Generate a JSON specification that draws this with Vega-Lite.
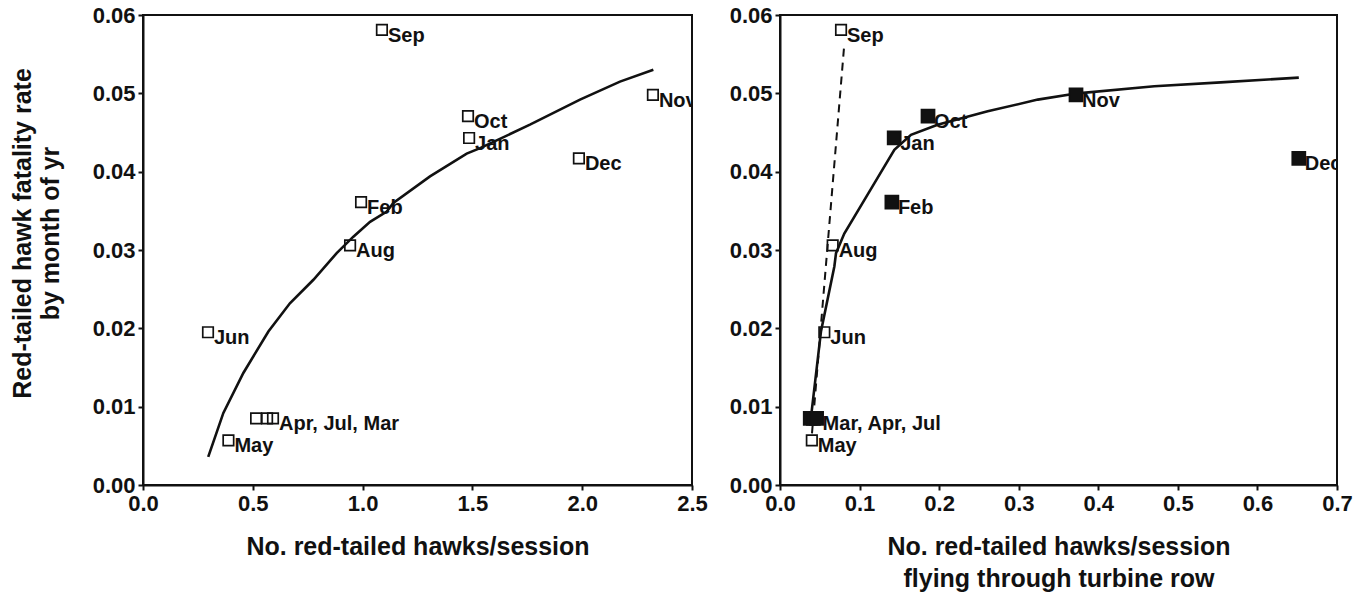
{
  "$schema": "https://vega.github.io/schema/vega-lite/v6.json",
  "padding": {"left": 8, "top": 3, "right": 0, "bottom": 0},
  "background": "white",
  "datasets": {
    "months": [
      {"month": "Jan", "h": 1.485, "t": 0.1435, "rate": 0.0443, "type": "filled", "lab1": "Jan", "lab2": "Jan"},
      {"month": "Feb", "h": 0.993, "t": 0.1406, "rate": 0.0361, "type": "filled", "lab1": "Feb", "lab2": "Feb"},
      {"month": "Mar", "h": 0.592, "t": 0.038, "rate": 0.0085, "type": "filled", "lab1": "Apr, Jul, Mar", "lab2": ""},
      {"month": "Apr", "h": 0.515, "t": 0.042, "rate": 0.0085, "type": "filled", "lab1": "", "lab2": ""},
      {"month": "May", "h": 0.389, "t": 0.040, "rate": 0.0057, "type": "open", "lab1": "May", "lab2": "May"},
      {"month": "Jun", "h": 0.296, "t": 0.0557, "rate": 0.0195, "type": "open", "lab1": "Jun", "lab2": "Jun"},
      {"month": "Jul", "h": 0.565, "t": 0.046, "rate": 0.0085, "type": "filled", "lab1": "", "lab2": "Mar, Apr, Jul"},
      {"month": "Aug", "h": 0.943, "t": 0.0662, "rate": 0.0306, "type": "open", "lab1": "Aug", "lab2": "Aug"},
      {"month": "Sep", "h": 1.088, "t": 0.0767, "rate": 0.0581, "type": "open", "lab1": "Sep", "lab2": "Sep"},
      {"month": "Oct", "h": 1.48, "t": 0.186, "rate": 0.0471, "type": "filled", "lab1": "Oct", "lab2": "Oct"},
      {"month": "Nov", "h": 2.322, "t": 0.372, "rate": 0.0498, "type": "filled", "lab1": "Nov", "lab2": "Nov"},
      {"month": "Dec", "h": 1.985, "t": 0.652, "rate": 0.0417, "type": "filled", "lab1": "Dec", "lab2": "Dec"}
    ],
    "curve1": [
      {"h": 0.297, "rate": 0.0036},
      {"h": 0.366, "rate": 0.0092},
      {"h": 0.457, "rate": 0.0143},
      {"h": 0.571, "rate": 0.0196},
      {"h": 0.669, "rate": 0.0232},
      {"h": 0.776, "rate": 0.0262},
      {"h": 0.882, "rate": 0.0296},
      {"h": 0.958, "rate": 0.0317},
      {"h": 1.034, "rate": 0.0336},
      {"h": 1.11, "rate": 0.0349},
      {"h": 1.14, "rate": 0.036},
      {"h": 1.307, "rate": 0.0394},
      {"h": 1.474, "rate": 0.0423},
      {"h": 1.535, "rate": 0.043},
      {"h": 1.762, "rate": 0.046},
      {"h": 1.99, "rate": 0.0492},
      {"h": 2.172, "rate": 0.0515},
      {"h": 2.324, "rate": 0.053}
    ],
    "curve2": [
      {"t": 0.039, "rate": 0.0087},
      {"t": 0.0515, "rate": 0.0196},
      {"t": 0.0683, "rate": 0.0279},
      {"t": 0.0704, "rate": 0.0296},
      {"t": 0.0808, "rate": 0.0321},
      {"t": 0.1185, "rate": 0.0385},
      {"t": 0.1437, "rate": 0.0428},
      {"t": 0.1646, "rate": 0.0447},
      {"t": 0.198, "rate": 0.046},
      {"t": 0.261, "rate": 0.0477},
      {"t": 0.324, "rate": 0.0492},
      {"t": 0.374, "rate": 0.05},
      {"t": 0.4704, "rate": 0.0509},
      {"t": 0.554, "rate": 0.0514},
      {"t": 0.652, "rate": 0.052}
    ],
    "dash2": [
      {"t": 0.0402, "rate": 0.0066},
      {"t": 0.0805, "rate": 0.0559}
    ]
  },
  "spacing": 19,
  "hconcat": [
    {
      "width": 549,
      "height": 470,
      "encoding": {
        "x": {"field": "h", "type": "quantitative", "scale": {"domain": [0, 2.5], "nice": false, "zero": false},
              "axis": {"title": "No. red-tailed hawks/session", "values": [0, 0.5, 1, 1.5, 2, 2.5], "format": ".1f", "titlePadding": 20}},
        "y": {"field": "rate", "type": "quantitative", "scale": {"domain": [0, 0.06], "nice": false, "zero": false},
              "axis": {"title": ["Red-tailed hawk fatality rate", "by month of yr"], "values": [0, 0.01, 0.02, 0.03, 0.04, 0.05, 0.06], "format": ".2f", "titleLineHeight": 28, "titleX": -108, "titleY": 218}}
      },
      "layer": [
        {"data": {"name": "curve1"}, "mark": {"type": "line", "color": "#111", "strokeWidth": 2.6}},
        {"data": {"name": "months"}, "mark": {"type": "point", "shape": "square", "size": 110, "filled": false, "stroke": "#111", "strokeWidth": 1.7, "opacity": 1}},
        {"data": {"name": "months"}, "mark": {"type": "text", "align": "left", "baseline": "middle", "dx": 6, "dy": 6, "font": "Liberation Sans", "fontSize": 20, "fontWeight": "bold", "color": "#111", "clip": true},
         "encoding": {"text": {"field": "lab1"}}}
      ]
    },
    {
      "width": 557,
      "height": 470,
      "encoding": {
        "x": {"field": "t", "type": "quantitative", "scale": {"domain": [0, 0.7], "nice": false, "zero": false},
              "axis": {"title": ["No. red-tailed hawks/session", "flying through turbine row"], "values": [0, 0.1, 0.2, 0.3, 0.4, 0.5, 0.6, 0.7], "format": ".1f", "titlePadding": 20, "titleLineHeight": 32}},
        "y": {"field": "rate", "type": "quantitative", "scale": {"domain": [0, 0.06], "nice": false, "zero": false},
              "axis": {"title": null, "values": [0, 0.01, 0.02, 0.03, 0.04, 0.05, 0.06], "format": ".2f"}}
      },
      "layer": [
        {"data": {"name": "dash2"}, "mark": {"type": "line", "color": "#111", "strokeWidth": 2, "strokeDash": [8, 6]}},
        {"data": {"name": "curve2"}, "mark": {"type": "line", "color": "#111", "strokeWidth": 2.6}},
        {"data": {"name": "months"}, "mark": {"type": "point", "shape": "square", "filled": true, "stroke": "#111", "strokeWidth": 1.7, "opacity": 1},
         "encoding": {
           "fill": {"field": "type", "type": "nominal", "scale": {"domain": ["open", "filled"], "range": ["transparent", "#111"]}, "legend": null},
           "size": {"field": "type", "type": "nominal", "scale": {"domain": ["open", "filled"], "range": [110, 170]}, "legend": null}
         }},
        {"data": {"name": "months"}, "mark": {"type": "text", "align": "left", "baseline": "middle", "dx": 6, "dy": 6, "font": "Liberation Sans", "fontSize": 20, "fontWeight": "bold", "color": "#111", "clip": true},
         "encoding": {"text": {"field": "lab2"}}}
      ]
    }
  ],
  "config": {
    "font": "Liberation Sans",
    "view": {"stroke": "#111", "strokeWidth": 2},
    "axis": {
      "grid": false,
      "domainColor": "#111", "domainWidth": 2,
      "tickColor": "#111", "tickWidth": 2, "tickSize": 5,
      "labelFont": "Liberation Sans", "labelFontSize": 22, "labelFontWeight": "bold", "labelColor": "#111", "labelPadding": 3,
      "labelFlush": false, "labelOverlap": false, "labelBound": false,
      "titleFont": "Liberation Sans", "titleFontSize": 25, "titleFontWeight": "bold", "titleColor": "#111"
    }
  }
}
